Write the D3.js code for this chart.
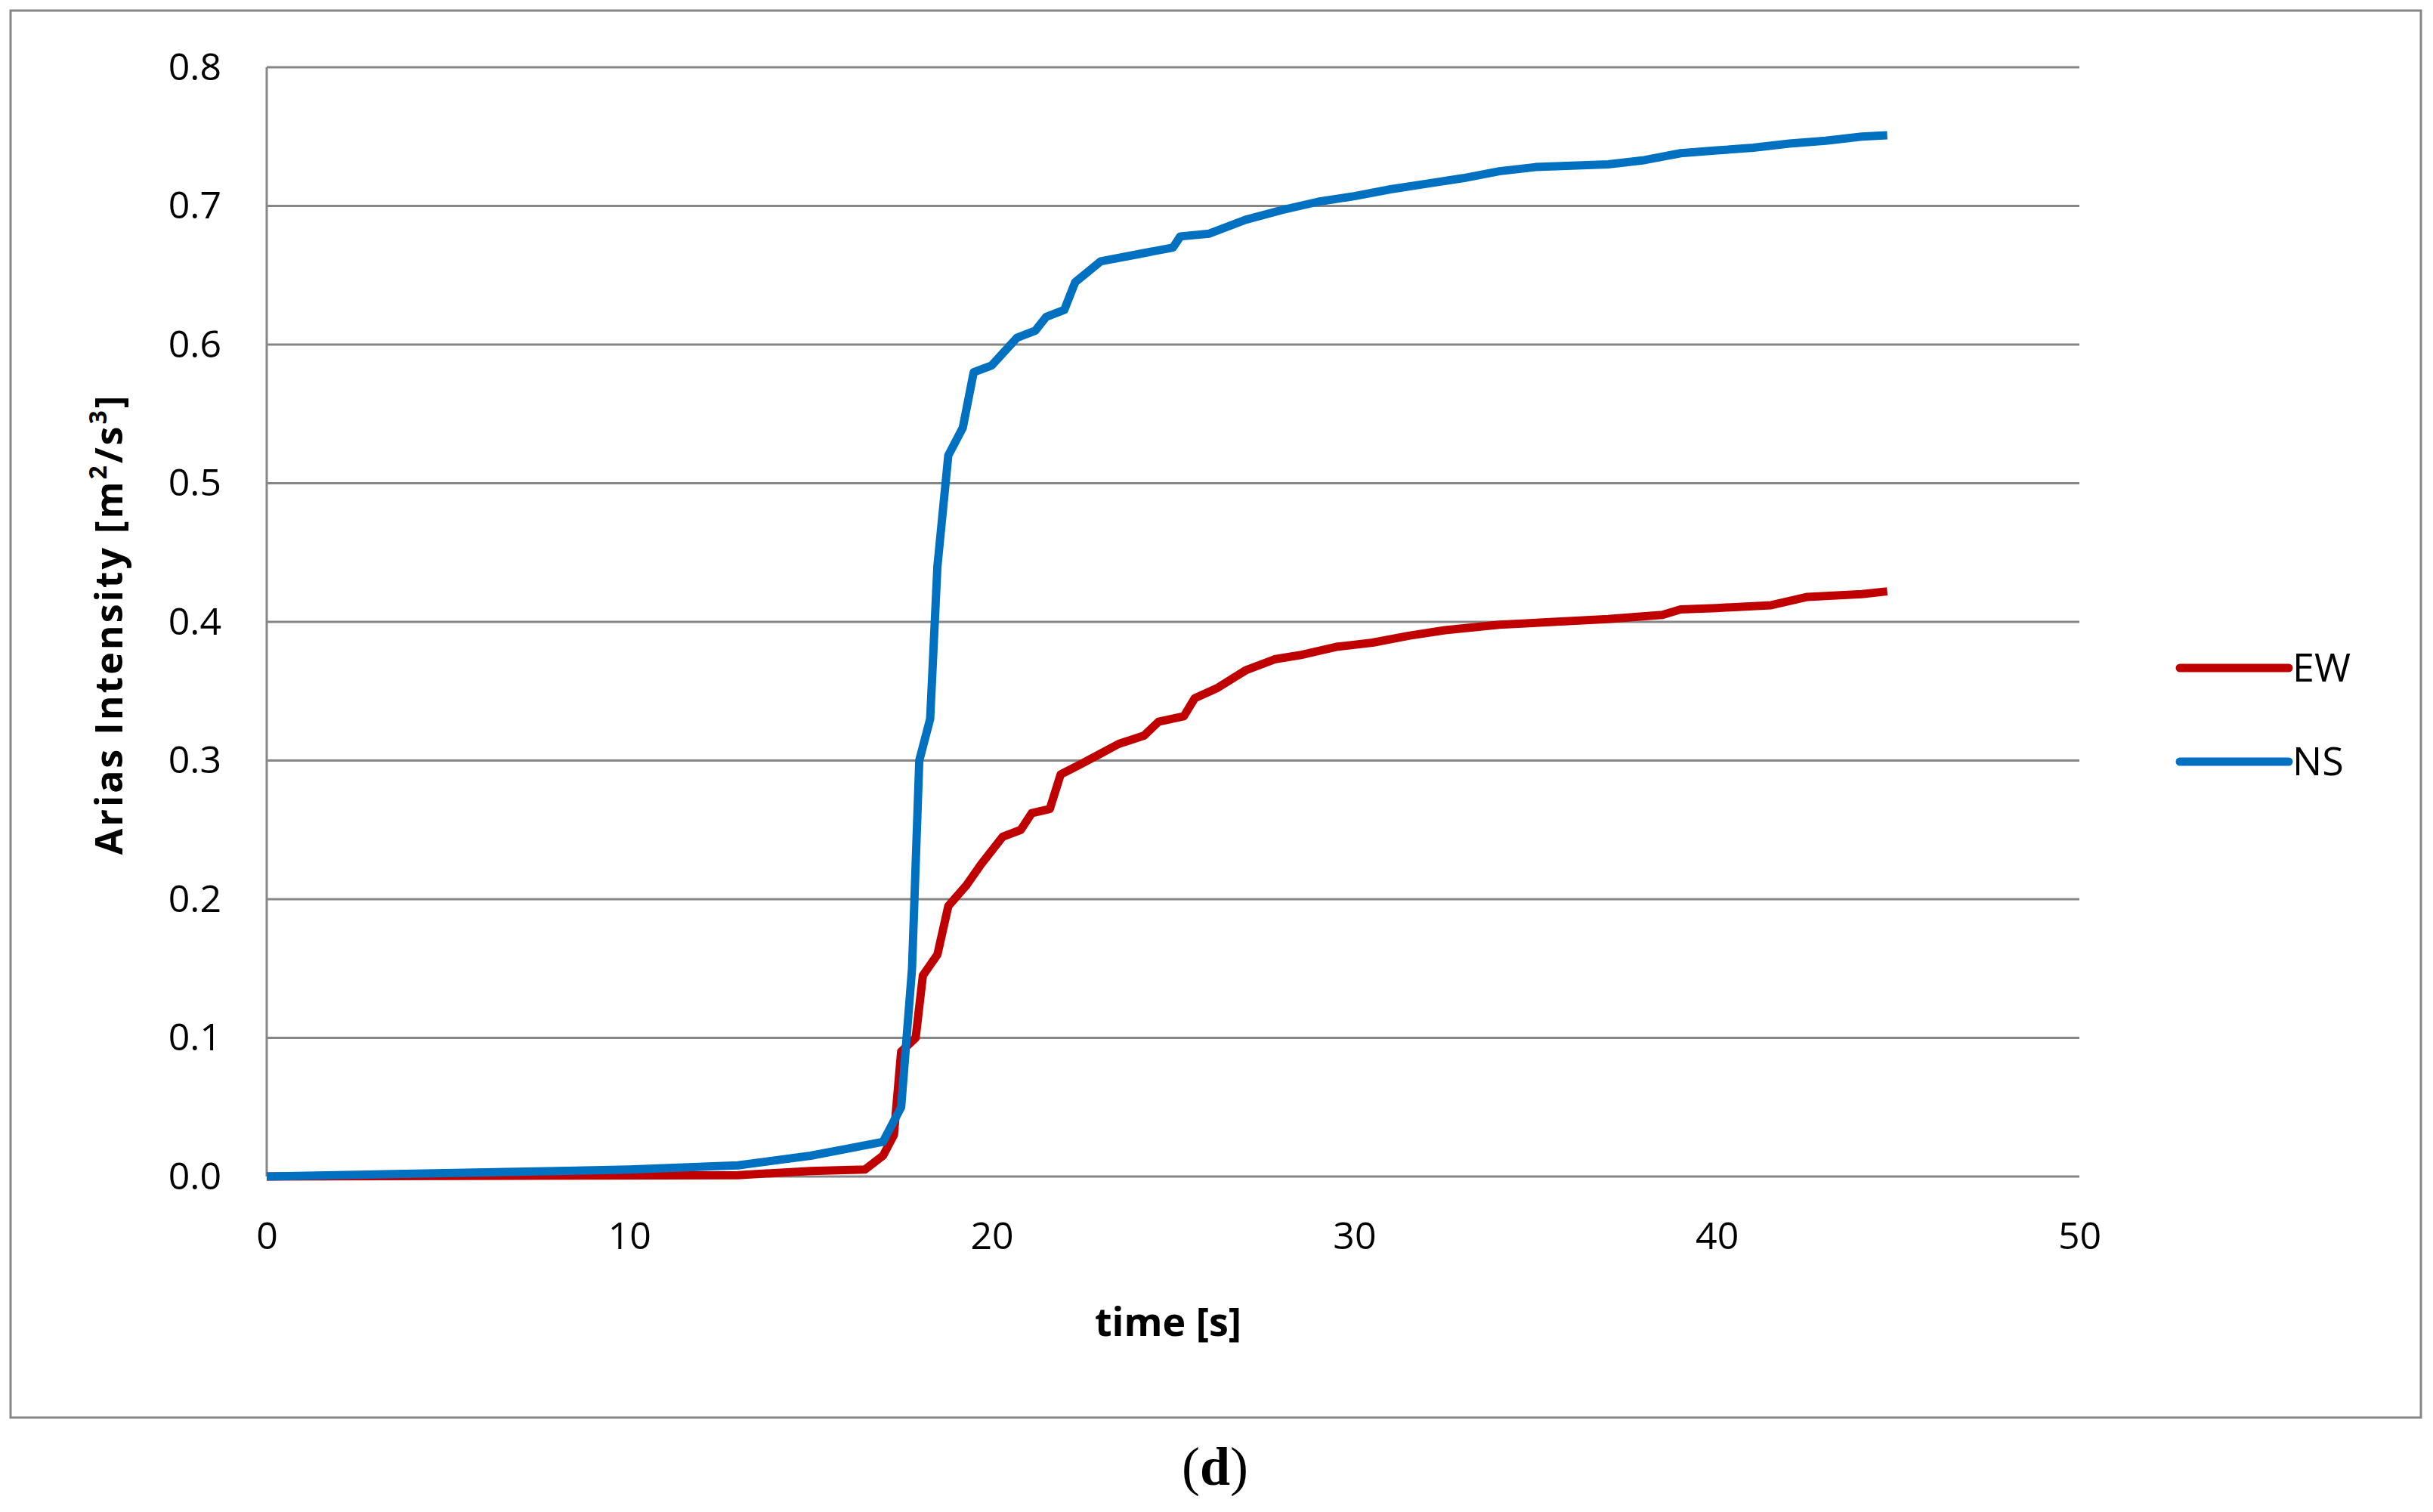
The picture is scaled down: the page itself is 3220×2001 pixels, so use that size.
<!DOCTYPE html>
<html><head><meta charset="utf-8">
<script src="https://cdn.jsdelivr.net/npm/d3@7"></script>
<style>body{margin:0;background:#fff}svg{display:block}</style>
</head><body>
<svg id="c" width="3220" height="2001"></svg>
<script>
const xTicks=[0,10,20,30,40,50];
const yTicks=[0,0.1,0.2,0.3,0.4,0.5,0.6,0.7,0.8];
const nsT=[0,10,13,15,16,17,17.5,17.8,18.0,18.3,18.5,18.8,19.2,19.5,20,20.7,21.2,21.5,22,22.3,23,24,25,25.2,26,27,28,29,30,31,32,33,34,35,36,37,38,39,40,41,42,43,44,44.7];
const nsV=[0,0.005,0.008,0.015,0.02,0.025,0.05,0.15,0.3,0.33,0.44,0.52,0.54,0.58,0.585,0.605,0.61,0.62,0.625,0.645,0.66,0.665,0.67,0.678,0.68,0.69,0.697,0.703,0.707,0.712,0.716,0.72,0.725,0.728,0.729,0.73,0.733,0.738,0.74,0.742,0.745,0.747,0.75,0.751];
const ewT=[0,13,15,16.5,17,17.3,17.5,17.9,18.1,18.5,18.8,19.3,19.7,20.3,20.8,21.1,21.6,21.9,22.5,23,23.5,24.2,24.6,25.3,25.6,26.2,27,27.8,28.5,29.5,30.5,31.5,32.5,34,35.5,37,38.5,39,40,41.5,42.5,44,44.7];
const ewV=[0,0.001,0.004,0.005,0.015,0.03,0.09,0.1,0.145,0.16,0.195,0.21,0.225,0.245,0.25,0.262,0.265,0.29,0.298,0.305,0.312,0.318,0.328,0.332,0.345,0.352,0.365,0.373,0.376,0.382,0.385,0.39,0.394,0.398,0.4,0.402,0.405,0.409,0.41,0.412,0.418,0.42,0.422];
const seriesNames=["EW","NS"];
const colors=["#C00000","#0070C0"];

const svg=d3.select("#c");
const F="'Open Sans',sans-serif";
svg.append("rect").attr("x",14).attr("y",14).attr("width",3190).attr("height",1862).attr("fill","#fff").attr("stroke","#868686").attr("stroke-width",3);
const x=d3.scaleLinear().domain([0,50]).range([353,2752]);
const y=d3.scaleLinear().domain([0,0.8]).range([1557,89]);
const g=svg.append("g");
yTicks.forEach(v=>g.append("line").attr("x1",x(0)).attr("x2",x(50)).attr("y1",y(v)).attr("y2",y(v)).attr("stroke","#868686").attr("stroke-width",3));
g.append("line").attr("x1",x(0)).attr("x2",x(0)).attr("y1",y(0)).attr("y2",y(0.8)).attr("stroke","#868686").attr("stroke-width",3);
const ya=svg.append("g").attr("transform",`translate(${x(0)},0)`).call(d3.axisLeft(y).tickValues(yTicks).tickFormat(d3.format(".1f")).tickSize(0).tickPadding(60));
const xa=svg.append("g").attr("transform",`translate(0,${y(0)})`).call(d3.axisBottom(x).tickValues(xTicks).tickSize(0).tickPadding(60));
[ya,xa].forEach(a=>{a.select(".domain").remove();a.selectAll("text").attr("font-family",F).attr("font-size",50).attr("fill","#000");});
const line=d3.line().x(d=>x(d[0])).y(d=>y(d[1]));
const ew=ewT.map((t,i)=>[t,ewV[i]]), ns=nsT.map((t,i)=>[t,nsV[i]]);
[ew,ns].forEach((d,i)=>svg.append("path").datum(d).attr("d",line).attr("fill","none").attr("stroke",colors[i]).attr("stroke-width",11).attr("stroke-linejoin","round"));
svg.append("text").attr("x",1546).attr("y",1768).attr("text-anchor","middle").attr("font-family",F).attr("font-weight","bold").attr("font-size",52).text("time [s]");
const yl=svg.append("text").attr("transform","translate(162,826) rotate(-90)").attr("text-anchor","middle").attr("font-family",F).attr("font-weight","bold").attr("font-size",50).attr("letter-spacing",3);
yl.append("tspan").text("Arias Intensity [m");
yl.append("tspan").attr("baseline-shift","super").attr("font-size",32).text("2");
yl.append("tspan").text("/s");
yl.append("tspan").attr("baseline-shift","super").attr("font-size",32).text("3");
yl.append("tspan").text("]");
seriesNames.forEach((n,i)=>{
  const ly=884+i*124;
  svg.append("line").attr("x1",2885).attr("x2",3029).attr("y1",ly).attr("y2",ly).attr("stroke",colors[i]).attr("stroke-width",11).attr("stroke-linecap","round");
  svg.append("text").attr("x",3034).attr("y",ly+18).attr("font-family",F).attr("font-size",52).text(n);
});
svg.append("text").attr("x",1608).attr("y",1965).attr("text-anchor","middle").attr("font-family","'Liberation Serif',serif").attr("font-size",72).text("(").append("tspan").attr("font-weight","bold").text("d").select(function(){return this.parentNode;}).append("tspan").text(")");
</script>
</body></html>
